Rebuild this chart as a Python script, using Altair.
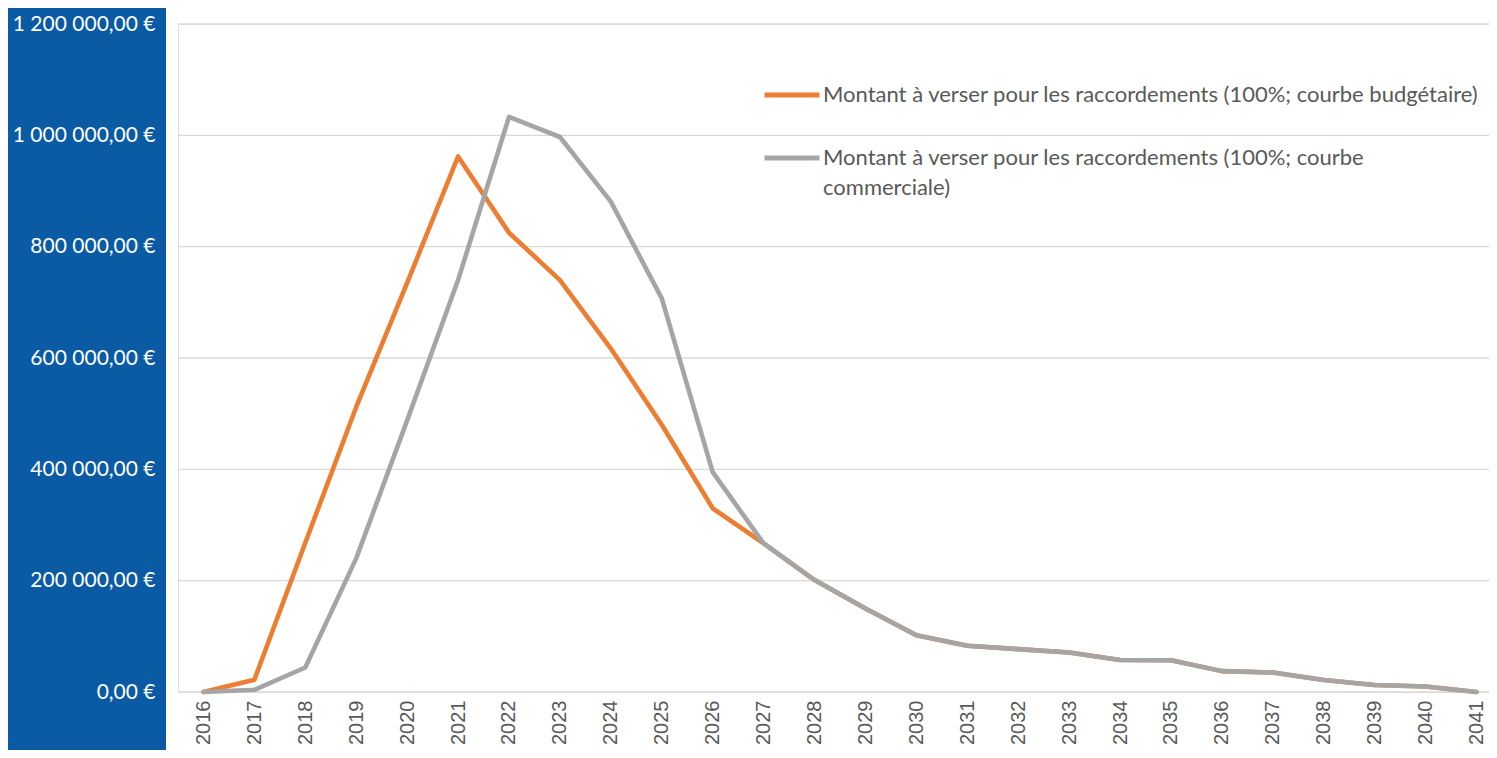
import altair as alt
import pandas as pd

years = list(range(2016, 2042))
budgetaire = [0, 22000, 268000, 512000, 735000, 962000, 825000, 740000, 617000, 480000,
              330000, 267000, 201000, 150000, 102000, 83000, 77000, 71000, 57500, 57000,
              37500, 35000, 21600, 12600, 10000, 0]
commerciale = [0, 4000, 44000, 240000, 488000, 740000, 1033000, 997000, 881000, 707000,
               395000, 267000, 201000, 150000, 102000, 83000, 77000, 71000, 57500, 57000,
               37500, 35000, 21600, 12600, 10000, 0]
series_names = [
    "Montant à verser pour les raccordements (100%; courbe budgétaire)",
    "Montant à verser pour les raccordements (100%; courbe commerciale)",
]
y_ticks = [0, 200000, 400000, 600000, 800000, 1000000, 1200000]

ORANGE = "#ED7D31"
GRAY = "#A5A5A5"
BLUE = "#0A5AA4"
TEXT = "#595959"
DY = -10

df = pd.DataFrame({
    "year": years + years,
    "value": budgetaire + commerciale,
    "serie": [series_names[0]] * len(years) + [series_names[1]] * len(years),
})
grid_df = pd.DataFrame({"v": y_ticks})

x_scale = alt.Scale(domain=[2015.5, 2041.245], nice=False, zero=False)
y_scale = alt.Scale(domain=[0, 1200000], nice=False)

y_axis = alt.Axis(values=y_ticks, format=",.2f", labelExpr="datum.label + ' €'",
                  title=None, grid=False, domain=False, ticks=False,
                  labelPadding=23, labelFont="Lato", labelFontSize=21,
                  labelColor="white", zindex=1, labelOffset=-DY)

panel = alt.Chart(grid_df).mark_rect(color=BLUE).encode(
    x=alt.value(-170), x2=alt.value(-12), y=alt.value(-16), y2=alt.value(730)
)

grid = alt.Chart(grid_df).mark_rule(color="#D9D9D9", strokeWidth=1.3).encode(
    y=alt.Y("v:Q", scale=y_scale, axis=y_axis)
)

label_expr = (
    "datum.label == '" + series_names[1] + "' ? "
    "['Montant à verser pour les raccordements (100%; courbe', 'commerciale)'] : datum.label"
)

lines = alt.Chart(df).mark_line(strokeWidth=4.6, strokeCap="round", strokeJoin="round").encode(
    x=alt.X("year:Q", scale=x_scale,
            axis=alt.Axis(values=years, format="d", labelAngle=-90, title=None,
                          grid=False, domain=False, ticks=False, labelPadding=8,
                          labelFont="Liberation Sans", labelFontSize=20,
                          labelColor=TEXT, labelOverlap=False, labelFlush=False,
                          labelOffset=-DY)),
    y=alt.Y("value:Q", scale=y_scale, axis=y_axis),
    color=alt.Color("serie:N",
                    scale=alt.Scale(domain=series_names, range=[ORANGE, GRAY]),
                    legend=alt.Legend(title=None, orient="none", legendX=584, legendY=41,
                                      symbolType="stroke", symbolSize=3025,
                                      symbolStrokeWidth=5, labelOffset=1,
                                      labelFont="Lato", labelFontSize=22,
                                      labelColor=TEXT, labelLimit=900,
                                      labelExpr=label_expr, labelBaseline="top",
                                      rowPadding=22, padding=0)),
    order=alt.Order("year:Q"),
)

chart = alt.layer(panel, grid, lines).properties(
    width=1311, height=668,
    padding={"left": 170, "top": 16, "right": 0, "bottom": 58},
    autosize=alt.AutoSizeParams(type="none"),
    background="white",
).configure_view(strokeWidth=0, fill="white").configure(
    locale={"number": {"decimal": ",", "thousands": " ", "grouping": [3],
                       "currency": ["", " €"]}},
    style={"guide-label": {"lineHeight": 30, "dy": DY}},
)

chart.save("out.html", embed_options={"renderer": "svg", "actions": False})
